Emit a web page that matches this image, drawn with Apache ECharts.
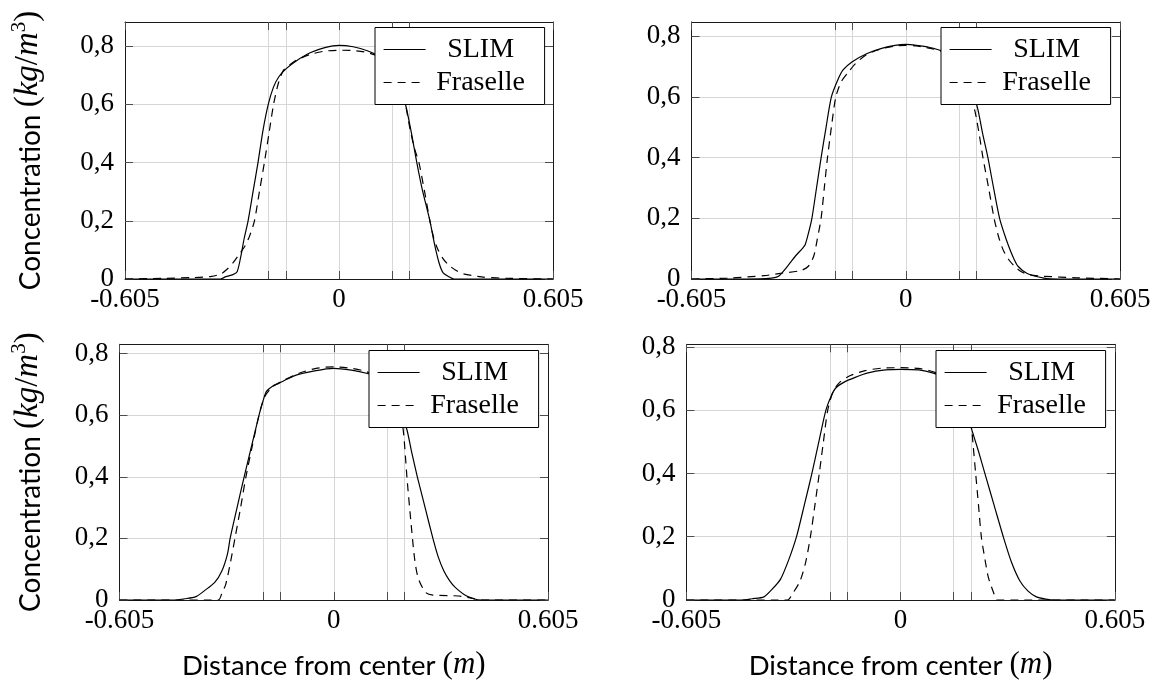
<!DOCTYPE html>
<html><head><meta charset="utf-8">
<script src="https://cdn.jsdelivr.net/npm/echarts@6/dist/echarts.min.js"></script>
<style>html,body{margin:0;padding:0;background:#fff}#c{width:1157px;height:681px}</style>
</head><body><div id="c"></div>
<script>
const seriesNames = ['SLIM', 'Fraselle'];
const xTickValues = [-0.605, -0.2, -0.15, 0, 0.15, 0.2, 0.605];
const xLabelValues = [-0.605, 0, 0.605];
const yTickValues = [0, 0.2, 0.4, 0.6, 0.8];
const yMaxes = [0.883, 0.847, 0.83, 0.808];

// Panel 1 (top left)
const p1SlimX = [-0.605,-0.45,-0.335,-0.32,-0.30,-0.288,-0.278,-0.268,-0.257,-0.243,-0.229,-0.215,-0.2,-0.185,-0.17,-0.15,-0.12,-0.08,-0.04,0,0.04,0.08,0.12,0.15,0.17,0.19,0.205,0.22,0.235,0.257,0.27,0.283,0.294,0.31,0.325,0.45,0.605];
const p1SlimY = [0,0,0,0.008,0.015,0.025,0.075,0.14,0.2,0.3,0.4,0.51,0.6,0.66,0.695,0.722,0.75,0.778,0.795,0.803,0.798,0.784,0.76,0.725,0.68,0.59,0.5,0.4,0.31,0.2,0.12,0.055,0.022,0.008,0,0,0];
const p1FraX = [-0.605,-0.5,-0.41,-0.36,-0.333,-0.315,-0.3,-0.286,-0.265,-0.252,-0.239,-0.225,-0.211,-0.198,-0.185,-0.172,-0.158,-0.14,-0.12,-0.08,-0.04,0,0.04,0.08,0.12,0.15,0.17,0.185,0.2,0.213,0.226,0.242,0.257,0.268,0.278,0.293,0.309,0.33,0.351,0.403,0.487,0.605];
const p1FraY = [0,0.002,0.005,0.009,0.018,0.035,0.055,0.078,0.115,0.15,0.2,0.3,0.4,0.5,0.6,0.67,0.715,0.735,0.752,0.772,0.783,0.786,0.785,0.778,0.76,0.73,0.69,0.62,0.52,0.45,0.4,0.3,0.2,0.14,0.106,0.072,0.049,0.03,0.018,0.007,0.002,0];

// Panel 2 (top right)
const p2SlimX = [-0.605,-0.45,-0.379,-0.359,-0.338,-0.312,-0.291,-0.284,-0.275,-0.265,-0.252,-0.239,-0.225,-0.21,-0.192,-0.177,-0.151,-0.109,-0.068,-0.03,0,0.03,0.068,0.1,0.13,0.16,0.185,0.203,0.217,0.232,0.248,0.265,0.278,0.291,0.304,0.317,0.343,0.39,0.43,0.605];
const p2SlimY = [0,0,0.003,0.009,0.036,0.075,0.102,0.113,0.15,0.2,0.3,0.4,0.5,0.6,0.656,0.689,0.716,0.743,0.76,0.77,0.773,0.77,0.763,0.752,0.73,0.69,0.63,0.5625,0.48,0.4,0.3,0.2,0.15,0.107,0.07,0.042,0.018,0.003,0,0];
const p2FraX = [-0.605,-0.504,-0.4,-0.359,-0.296,-0.275,-0.26,-0.25,-0.239,-0.23,-0.221,-0.21,-0.1975,-0.182,-0.161,-0.142,-0.11,-0.07,-0.03,0,0.03,0.07,0.1,0.13,0.16,0.18,0.196,0.207,0.218,0.234,0.2495,0.262,0.275,0.29,0.307,0.325,0.348,0.39,0.483,0.605];
const p2FraY = [0,0.003,0.011,0.018,0.028,0.042,0.075,0.13,0.2,0.3,0.4,0.5,0.6,0.65,0.683,0.71,0.74,0.758,0.768,0.77,0.768,0.76,0.75,0.725,0.68,0.62,0.55,0.48,0.4,0.3,0.2,0.14,0.096,0.065,0.042,0.025,0.014,0.009,0.004,0];

// Panel 3 (bottom left)
const p3SlimX = [-0.605,-0.451,-0.42,-0.389,-0.363,-0.336,-0.316,-0.3,-0.2926,-0.273,-0.253,-0.232,-0.211,-0.2,-0.19,-0.172,-0.154,-0.13,-0.1066,-0.054,0,0.05,0.092,0.13,0.16,0.185,0.207,0.22,0.236,0.258,0.28,0.295,0.311,0.327,0.343,0.374,0.416,0.605];
const p3SlimY = [0,0,0.004,0.011,0.032,0.057,0.094,0.15,0.2,0.3,0.4,0.5,0.6,0.645,0.677,0.695,0.704,0.718,0.73,0.744,0.752,0.746,0.736,0.72,0.69,0.63,0.551,0.48,0.4,0.3,0.2,0.14,0.094,0.063,0.041,0.014,0,0];
const p3FraX = [-0.605,-0.326,-0.315,-0.305,-0.292,-0.279,-0.263,-0.248,-0.23,-0.211,-0.195,-0.175,-0.15,-0.1,-0.05,0,0.05,0.09,0.13,0.16,0.186,0.196,0.207,0.217,0.228,0.238,0.259,0.28,0.353,0.39,0.416,0.605];
const p3FraY = [0,0,0.025,0.051,0.12,0.2,0.3,0.4,0.5,0.6,0.66,0.69,0.708,0.735,0.752,0.757,0.752,0.742,0.72,0.685,0.6,0.554,0.394,0.265,0.137,0.073,0.025,0.016,0.013,0.006,0,0];

// Panel 4 (bottom right)
const p4SlimX = [-0.605,-0.448,-0.42,-0.386,-0.362,-0.339,-0.315,-0.294,-0.272,-0.2505,-0.231,-0.211,-0.196,-0.183,-0.157,-0.125,-0.095,-0.043,0,0.051,0.0925,0.13,0.16,0.185,0.2017,0.22,0.238,0.264,0.29,0.313,0.337,0.36,0.3836,0.41,0.436,0.605];
const p4SlimY = [0,0,0.004,0.01,0.035,0.066,0.13,0.2,0.3,0.4,0.5,0.6,0.645,0.67,0.69,0.705,0.717,0.727,0.729,0.727,0.717,0.7,0.665,0.6,0.536,0.47,0.4,0.3,0.2,0.12,0.06,0.028,0.01,0.003,0,0];
const p4FraX = [-0.605,-0.32,-0.3046,-0.284,-0.268,-0.2547,-0.242,-0.2297,-0.218,-0.2058,-0.19,-0.17,-0.14,-0.1,-0.05,0,0.05,0.09,0.13,0.16,0.18,0.196,0.204,0.212,0.22,0.228,0.238,0.248,0.264,0.272,0.605];
const p4FraY = [0,0,0.021,0.06,0.12,0.2,0.3,0.4,0.5,0.6,0.66,0.69,0.71,0.725,0.733,0.734,0.732,0.722,0.7,0.665,0.63,0.6,0.5,0.4,0.3,0.2,0.13,0.071,0.019,0,0];

const panels = [
  [[p1SlimX, p1SlimY], [p1FraX, p1FraY]],
  [[p2SlimX, p2SlimY], [p2FraX, p2FraY]],
  [[p3SlimX, p3SlimY], [p3FraX, p3FraY]],
  [[p4SlimX, p4SlimY], [p4FraX, p4FraY]]
];

const gridBoxes = [
  {left: 125, top: 22, width: 428, height: 257},
  {left: 691.5, top: 22, width: 428.5, height: 257},
  {left: 119.5, top: 344.3, width: 428.5, height: 258.4},
  {left: 686.4, top: 344.3, width: 428.4, height: 258.4}
];
const legendBoxes = [[375, 27.5], [941, 27.5], [369, 350.5], [936, 350.5]];

const SERIF = 'Liberation Serif';
const SANS = 'Lato';
const axisColor = '#1a1a1a';
const tickColor = '#4d4d4d';
const gridColor = '#d6d6d6';

const grid = [], xAxis = [], yAxis = [], series = [], legend = [];
gridBoxes.forEach((g, i) => {
  grid.push(Object.assign({containLabel: false, show: false}, g));
  const bottomRow = i >= 2, leftCol = (i % 2 === 0);
  xAxis.push({
    type: 'value', gridIndex: i, min: -0.605, max: 0.605, position: 'bottom',
    axisLine: {show: true, onZero: false, lineStyle: {color: axisColor, width: 1}},
    axisTick: {show: true, inside: true, length: 8, customValues: xTickValues, lineStyle: {color: tickColor}},
    axisLabel: {show: true, customValues: xLabelValues, margin: 7, color: '#000', fontFamily: SERIF, fontSize: 27,
      formatter: v => (Math.abs(v) < 1e-9 ? '0' : String(v))},
    splitLine: {show: true, lineStyle: {color: gridColor, width: 1}},
    name: bottomRow ? '{s|Distance from center }{m|(}{i|m}{m|)}' : '',
    nameLocation: 'middle', nameGap: 46,
    nameTextStyle: {color: '#000', rich: {
      s: {fontFamily: SANS, fontSize: 27.5, color: '#000', verticalAlign: 'bottom', lineHeight: 34},
      m: {fontFamily: SERIF, fontSize: 31, color: '#000', verticalAlign: 'bottom', lineHeight: 34},
      i: {fontFamily: SERIF, fontSize: 31, fontStyle: 'italic', color: '#000', verticalAlign: 'bottom', lineHeight: 34}
    }}
  });
  xAxis.push({
    type: 'value', gridIndex: i, min: -0.605, max: 0.605, position: 'top',
    axisLine: {show: true, onZero: false, lineStyle: {color: axisColor, width: 1}},
    axisTick: {show: true, inside: true, length: 8, customValues: xTickValues, lineStyle: {color: tickColor}},
    axisLabel: {show: false}, splitLine: {show: false}
  });
  yAxis.push({
    type: 'value', gridIndex: i, min: 0, max: yMaxes[i], position: 'left',
    axisLine: {show: true, onZero: false, lineStyle: {color: axisColor, width: 1}},
    axisTick: {show: true, inside: true, length: 8, customValues: yTickValues, lineStyle: {color: tickColor}},
    axisLabel: {show: true, customValues: yTickValues, margin: 11, color: '#000', fontFamily: SERIF, fontSize: 27,
      formatter: v => (Math.abs(v) < 1e-9 ? '0' : v.toFixed(1).replace('.', ','))},
    splitLine: {show: true, lineStyle: {color: gridColor, width: 1}},
    name: leftCol ? '{s|Concentration }{m|(}{i|kg}{m|/}{i|m}{p|3}{m|)}' : '',
    nameLocation: 'middle', nameRotate: 90, nameGap: leftCol ? (i === 0 ? 80 : 75) : 0,
    nameTextStyle: {color: '#000', rich: {
      s: {fontFamily: SANS, fontSize: 28, color: '#000', verticalAlign: 'bottom', lineHeight: 36},
      m: {fontFamily: SERIF, fontSize: 33, color: '#000', verticalAlign: 'bottom', lineHeight: 36},
      i: {fontFamily: SERIF, fontSize: 33, fontStyle: 'italic', color: '#000', verticalAlign: 'bottom', lineHeight: 36},
      p: {fontFamily: SERIF, fontSize: 21, color: '#000', verticalAlign: 'top', lineHeight: 18}
    }}
  });
  yAxis.push({
    type: 'value', gridIndex: i, min: 0, max: yMaxes[i], position: 'right',
    axisLine: {show: true, onZero: false, lineStyle: {color: axisColor, width: 1}},
    axisTick: {show: true, inside: true, length: 8, customValues: yTickValues, lineStyle: {color: tickColor}},
    axisLabel: {show: false}, splitLine: {show: false}
  });
  panels[i].forEach((pair, k) => {
    const [xs, ys] = pair;
    series.push({
      type: 'line', name: seriesNames[k], xAxisIndex: 2 * i, yAxisIndex: 2 * i,
      data: xs.map((x, j) => [x, ys[j]]),
      symbol: 'none', showSymbol: false, smooth: 0.25, color: '#000',
      lineStyle: {color: '#000', width: 1.2, type: k === 0 ? 'solid' : [8, 6]},
      animation: false, z: 3
    });
  });
  legend.push({
    left: legendBoxes[i][0], top: legendBoxes[i][1], orient: 'vertical',
    backgroundColor: '#fff', borderColor: '#000', borderWidth: 1, borderRadius: 0,
    padding: [8, 14, 8, 8], itemWidth: 42, itemHeight: 14, itemGap: 5,
    selectedMode: false, data: seriesNames, z: 10,
    itemStyle: {opacity: 0, borderWidth: 0},
    lineStyle: {color: '#000', width: 1.2},
    formatter: n => '{t|' + n + '}',
    textStyle: {color: '#000', fontFamily: SERIF, fontSize: 28,
      rich: {t: {fontFamily: SERIF, fontSize: 28, color: '#000', width: 100, align: 'center', lineHeight: 30}}}
  });
});

const chart = echarts.init(document.getElementById('c'), null, {renderer: 'canvas'});
chart.setOption({animation: false, backgroundColor: '#fff', grid, xAxis, yAxis, series, legend});
</script>
</body></html>
